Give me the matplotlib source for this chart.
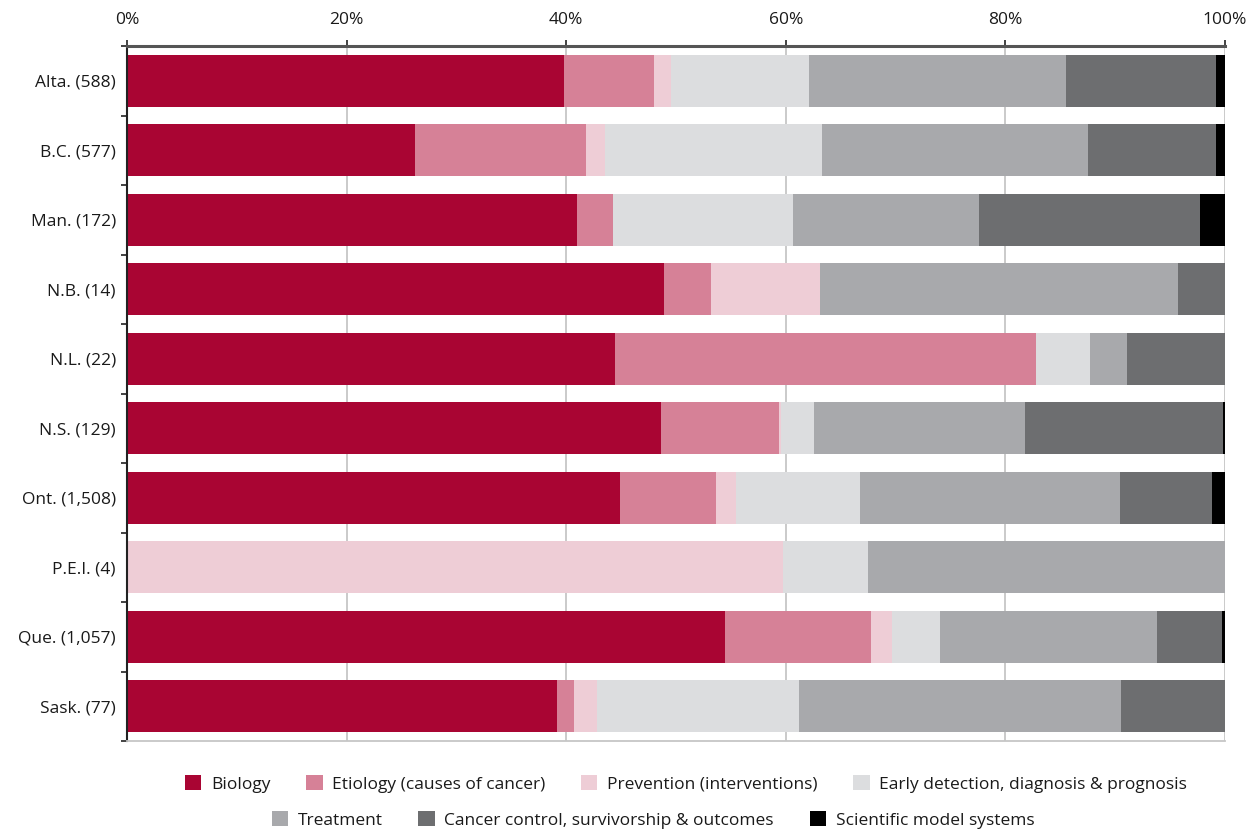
import matplotlib
matplotlib.use("Agg")
import matplotlib.pyplot as plt
from matplotlib.patches import Patch
import numpy as np

plt.rcParams["font.family"] = ["Open Sans", "DejaVu Sans"]

provinces = ["Alta. (588)", "B.C. (577)", "Man. (172)", "N.B. (14)", "N.L. (22)",
             "N.S. (129)", "Ont. (1,508)", "P.E.I. (4)", "Que. (1,057)", "Sask. (77)"]

# share of each research area, in % (one value per province, same order as above)
biology    = [39.8, 26.2, 41.0, 48.9, 44.4, 48.6, 44.9, 0.0, 54.5, 39.2]
etiology   = [8.2, 15.6, 3.3, 4.3, 38.4, 10.8, 8.7, 0.0, 13.3, 1.5]
prevention = [1.5, 1.7, 0.0, 9.9, 0.0, 0.2, 1.9, 59.7, 1.9, 2.1]
early_det  = [12.6, 19.8, 16.4, 0.0, 4.9, 3.0, 11.3, 7.8, 4.3, 18.4]
treatment  = [23.4, 24.2, 16.9, 32.6, 3.4, 19.2, 23.6, 32.5, 19.8, 29.3]
control    = [13.7, 11.7, 20.1, 4.3, 8.9, 18.0, 8.4, 0.0, 5.9, 9.5]
model_sys  = [0.8, 0.8, 2.3, 0.0, 0.0, 0.2, 1.2, 0.0, 0.3, 0.0]

series = [
    ("Biology", biology, "#a90533"),
    ("Etiology (causes of cancer)", etiology, "#d68197"),
    ("Prevention (interventions)", prevention, "#eecdd6"),
    ("Early detection, diagnosis & prognosis", early_det, "#dcdddf"),
    ("Treatment", treatment, "#a8a9ac"),
    ("Cancer control, survivorship & outcomes", control, "#6d6e70"),
    ("Scientific model systems", model_sys, "#000000"),
]

FS = 12.5

fig = plt.figure(figsize=(12.57, 8.35), dpi=100)
ax = fig.add_axes([127 / 1257, 1 - 741 / 835, 1098 / 1257, 695 / 835])

y = np.arange(len(provinces))
left = np.zeros(len(provinces))
for name, vals, col in series:
    vals = np.array(vals)
    ax.barh(y, vals, left=left, height=0.75, color=col, linewidth=0, label=name)
    left += vals

ax.set_xlim(0, 100)
ax.set_ylim(len(provinces) - 0.5, -0.5)

ax.xaxis.tick_top()
ax.set_xticks(range(0, 101, 20))
ax.set_xticklabels([f"{v}%" for v in range(0, 101, 20)], fontsize=FS, color="#1a1a1a")
ax.tick_params(axis="x", length=4, width=1.2, color="#222222", pad=9)

ax.set_yticks(y)
ax.set_yticklabels(provinces, fontsize=FS, color="#1a1a1a")
ax.set_yticks(np.arange(-0.5, len(provinces)), minor=True)
ax.tick_params(axis="y", which="major", length=0, pad=8)
ax.tick_params(axis="y", which="minor", length=4.5, width=1.2, color="#222222")

ax.grid(axis="x", color="#c6c6c6", linewidth=1.3)
ax.set_axisbelow(True)

ax.spines["right"].set_visible(False)
ax.spines["top"].set_color("#555555")
ax.spines["top"].set_linewidth(2.2)
ax.spines["left"].set_color("#222222")
ax.spines["left"].set_linewidth(1.5)
ax.spines["bottom"].set_color("#c6c6c6")
ax.spines["bottom"].set_linewidth(1.3)

handles = [Patch(facecolor=c, edgecolor="none", label=n) for n, _, c in series]
kw = dict(frameon=False, fontsize=FS, handlelength=0.95, handleheight=0.95,
          handletextpad=0.55, columnspacing=2.05, loc="center")
leg1 = fig.legend(handles=handles[:4], ncol=4, bbox_to_anchor=(686 / 1257, 1 - 784 / 835), **kw)
leg2 = fig.legend(handles=handles[4:], ncol=3, bbox_to_anchor=(653 / 1257, 1 - 820 / 835), **kw)
for lg in (leg1, leg2):
    for t in lg.get_texts():
        t.set_color("#1a1a1a")

fig.savefig("out.png", dpi=100)
